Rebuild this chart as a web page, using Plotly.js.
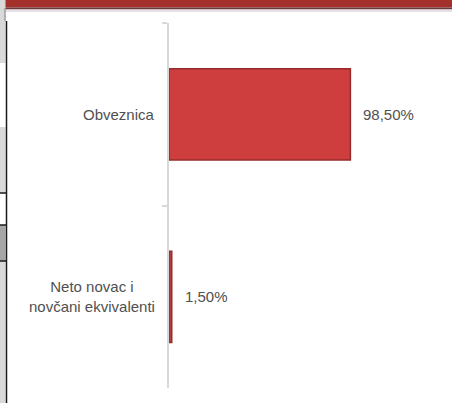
<!DOCTYPE html>
<html>
<head>
<meta charset="utf-8">
<script src="https://cdn.plot.ly/plotly-3.0.1.min.js"></script>
<style>html,body{margin:0;padding:0;background:#fff;}#chart{width:452px;height:403px;}</style>
</head>
<body>
<div id="chart"></div>
<script>
var categories = ['Obveznica', 'Neto novac i novčani ekvivalenti'];
var categoryLabels = ['Obveznica', 'Neto novac i<br>novčani ekvivalenti'];
var values = [98.5, 1.5];

var W = 452, H = 403;
var M = {l: 169, r: 62, t: 23, b: 15};
var PW = W - M.l - M.r, PH = H - M.t - M.b;
function px(x) { return (x - M.l) / PW; }
function py(y) { return 1 - (y - M.t) / PH; }
function rect(x0, y0, x1, y1, fill) {
  return {type: 'rect', xref: 'paper', yref: 'paper', x0: px(x0), x1: px(x1), y0: py(y1), y1: py(y0),
    fillcolor: fill, line: {width: 0}, layer: 'below'};
}
function hline(x0, x1, y, color, w) {
  return {type: 'line', xref: 'paper', yref: 'paper', x0: px(x0), x1: px(x1), y0: py(y), y1: py(y),
    line: {color: color, width: w}};
}
function vline(x, y0, y1, color, w) {
  return {type: 'line', xref: 'paper', yref: 'paper', x0: px(x), x1: px(x), y0: py(y0), y1: py(y1),
    line: {color: color, width: w}};
}

var shapes = [
  rect(5, 0, 452, 7.5, '#a3302b'),
  rect(5, 7.5, 452, 9.5, '#6b3a3a'),
  rect(5, 9.5, 452, 12, '#e6e0e6'),
  rect(0, 0, 5.5, 63, '#d9d9d9'),
  rect(0, 127, 5.5, 193, '#d9d9d9'),
  rect(0, 225, 5.5, 261, '#a6a6a6'),
  rect(0, 261, 5.5, 403, '#d9d9d9'),
  hline(0, 6, 193, '#1a1a1a', 1.5),
  hline(0, 6, 225, '#1a1a1a', 1.5),
  hline(0, 6, 261, '#1a1a1a', 1.5),
  vline(6.5, 21, 403, '#1a1a1a', 1.5),
  vline(5, 8, 21, '#7f7f7f', 1)
];

var annotations = [];
var fontFam = 'Liberation Sans, Arial, sans-serif';
var txtColor = '#505050';
for (var i = 0; i < categories.length; i++) {
  annotations.push({
    xref: 'x', yref: 'y', x: values[i], y: categories[i],
    text: values[i].toFixed(2).replace('.', ',') + '%',
    showarrow: false, xanchor: 'left', xshift: 11,
    font: {family: fontFam, size: 15, color: txtColor}
  });
  annotations.push({
    xref: 'paper', yref: 'y', x: 0, y: categories[i],
    text: categoryLabels[i], showarrow: false, xanchor: 'right', align: 'center',
    xshift: -12, font: {family: fontFam, size: 15, color: txtColor}
  });
}

var trace = {
  type: 'bar', orientation: 'h',
  x: values, y: categories,
  width: 0.5,
  marker: {color: ['#cf3e3e', '#b04444'], line: {color: '#962c2c', width: 1.5}},
  hoverinfo: 'none'
};

var layout = {
  width: W, height: H,
  margin: M,
  paper_bgcolor: '#ffffff', plot_bgcolor: '#ffffff',
  showlegend: false,
  xaxis: {range: [0, 120], visible: false, fixedrange: true},
  yaxis: {
    type: 'category', autorange: 'reversed',
    showticklabels: false, showgrid: false, zeroline: false,
    showline: true, linecolor: '#d9d9d9', linewidth: 2,
    ticks: 'outside', ticklen: 5, tickcolor: '#d9d9d9', tickwidth: 2,
    tickson: 'boundaries'
  },
  shapes: shapes,
  annotations: annotations
};

Plotly.newPlot('chart', [trace], layout, {staticPlot: true, displayModeBar: false});
</script>
</body>
</html>
